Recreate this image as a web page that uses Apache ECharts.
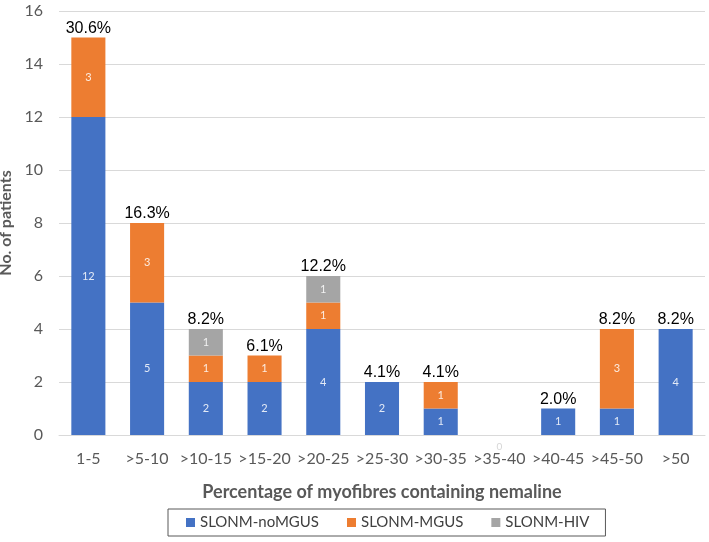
<!DOCTYPE html>
<html><head><meta charset="utf-8">
<script src="https://cdn.jsdelivr.net/npm/echarts@6/dist/echarts.min.js"></script>
<style>html,body{margin:0;padding:0;background:#fff}#c{width:709px;height:542px}</style>
</head><body><div id="c"></div>
<script>
var categories = ["1-5", ">5-10", ">10-15", ">15-20", ">20-25", ">25-30", ">30-35", ">35-40", ">40-45", ">45-50", ">50"];
var noMGUS = [12, 5, 2, 2, 4, 2, 1, 0, 1, 1, 4];
var mgus = [3, 3, 1, 1, 1, 0, 1, 0, 0, 3, 0];
var hiv = [0, 0, 1, 0, 1, 0, 0, 0, 0, 0, 0];
var pctLabels = ["30.6%", "16.3%", "8.2%", "6.1%", "12.2%", "4.1%", "4.1%", "", "2.0%", "8.2%", "8.2%"];
var yTicks = [0, 2, 4, 6, 8, 10, 12, 14, 16];

var font = 'Lato, "Open Sans", sans-serif';
var chart = echarts.init(document.getElementById('c'), null, {renderer: 'canvas'});
function inLabel(p) { return p.value === 0 ? '' : String(p.value); }
var innerLabel = {show: true, position: 'inside', color: 'rgba(255,255,255,0.85)', fontSize: 11, fontFamily: font, formatter: inLabel};
chart.setOption({
  animation: false,
  grid: {left: 59, right: 4, top: 11, bottom: 107, containLabel: false, outerBoundsMode: 'none'},
  xAxis: {
    type: 'category', data: categories,
    axisLine: {lineStyle: {color: '#d9d9d9'}}, axisTick: {show: false},
    axisLabel: {color: '#595959', fontSize: 16, fontFamily: font, margin: 16, interval: 0},
    name: 'Percentage of myofibres containing nemaline', nameLocation: 'middle', nameGap: 48,
    nameTextStyle: {color: '#595959', fontSize: 18, fontWeight: 'bold', fontFamily: font}
  },
  yAxis: {
    type: 'value', min: yTicks[0], max: yTicks[yTicks.length - 1], interval: 2,
    axisLine: {show: false}, axisTick: {show: false},
    axisLabel: {color: '#595959', fontSize: 16, fontFamily: font, margin: 16},
    splitLine: {lineStyle: {color: '#d9d9d9'}},
    name: 'No. of patients', nameLocation: 'middle', nameGap: 43,
    nameTextStyle: {color: '#595959', fontSize: 16, fontWeight: 'bold', fontFamily: font}
  },
  legend: {
    left: 168, top: 509,
    data: ['SLONM-noMGUS', 'SLONM-MGUS', 'SLONM-HIV'],
    icon: 'rect', itemWidth: 9, itemHeight: 9, itemGap: 28, itemStyle: {borderWidth: 0},
    borderColor: '#595959', borderWidth: 1, padding: [6, 16, 6, 18],
    textStyle: {color: '#404040', fontSize: 15, fontFamily: font}
  },
  series: [
    {name: 'SLONM-noMGUS', type: 'bar', stack: 's', data: noMGUS, barCategoryGap: '42%',
     itemStyle: {color: '#4472C4'}, label: innerLabel},
    {name: 'SLONM-MGUS', type: 'bar', stack: 's', data: mgus, itemStyle: {color: '#ED7D31'}, label: innerLabel},
    {name: 'SLONM-HIV', type: 'bar', stack: 's', data: hiv, itemStyle: {color: '#A5A5A5'}, label: innerLabel},
    {name: 'pct', type: 'bar', stack: 's', data: categories.map(function(){return 0;}),
     itemStyle: {color: 'transparent'}, silent: true,
     label: {show: true, position: 'top', distance: 1, color: '#000', fontSize: 16, fontFamily: '"Liberation Sans", Arial, sans-serif',
       formatter: function(p){ return pctLabels[p.dataIndex]; }}},
    {name: 'zero', type: 'bar', stack: 'z', data: categories.map(function(c, i){return (noMGUS[i]+mgus[i]+hiv[i])===0 ? 0 : '-';}),
     itemStyle: {color: 'transparent'}, silent: true, barGap: '-100%',
     label: {show: true, position: 'bottom', distance: 7, color: '#d6d6d6', fontSize: 10, fontFamily: font,
       formatter: function(p){ return '0'; }}}
  ]
});
</script></body></html>
